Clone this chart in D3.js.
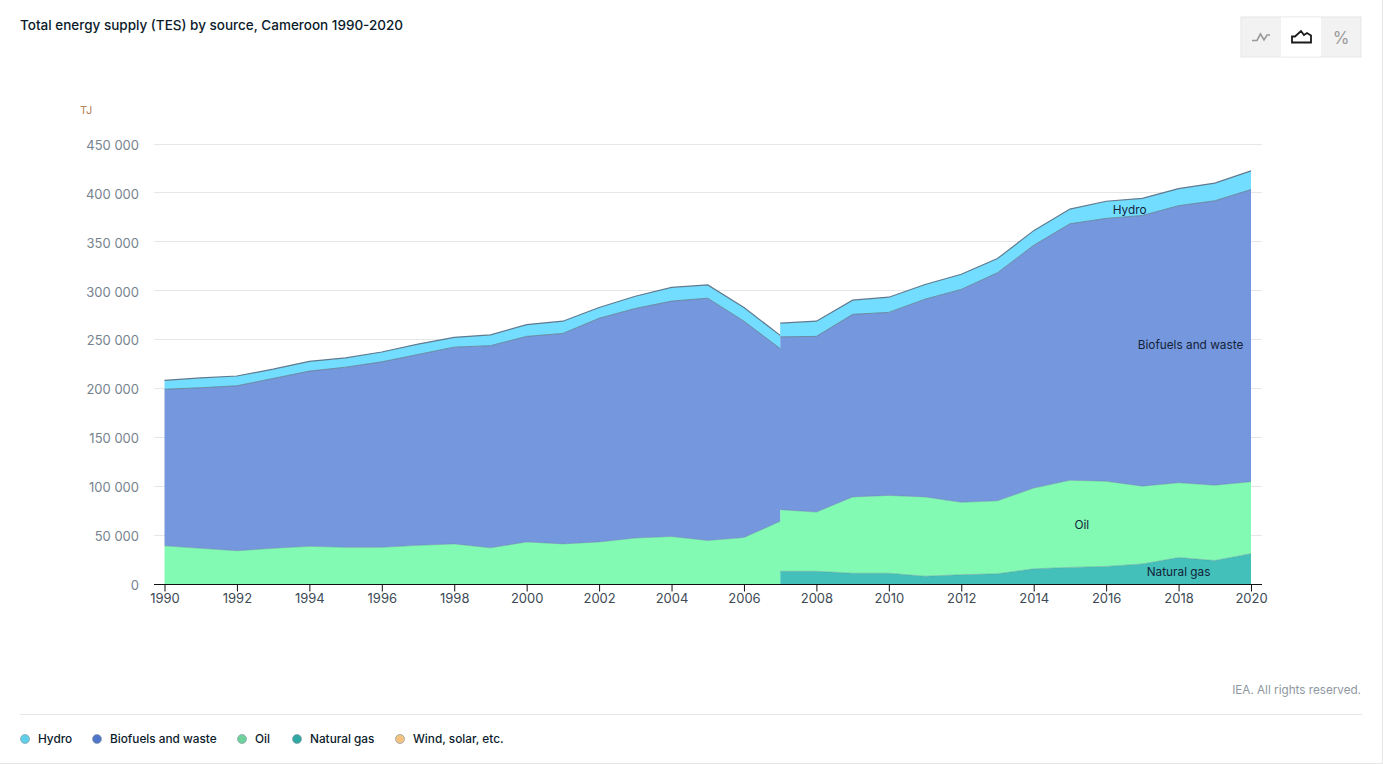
<!DOCTYPE html>
<html>
<head>
<meta charset="utf-8">
<script src="https://cdn.jsdelivr.net/npm/d3@7"></script>
<style>
  html, body { margin: 0; padding: 0; background: #fff; overflow: hidden; }
  svg { display: block; font-family: Inter, 'Open Sans', sans-serif; }
</style>
</head>
<body>
<svg id="chart" width="1383" height="764"></svg>
<script>
// 2007 is listed twice: the series break there, the area jumps straight up
const years = [1990, 1991, 1992, 1993, 1994, 1995, 1996, 1997, 1998, 1999, 2000, 2001, 2002, 2003, 2004, 2005, 2006, 2007, 2007, 2008, 2009, 2010, 2011, 2012, 2013, 2014, 2015, 2016, 2017, 2018, 2019, 2020];
const naturalGas = [0, 0, 0, 0, 0, 0, 0, 0, 0, 0, 0, 0, 0, 0, 0, 0, 0, 0, 14000, 14000, 12000, 12000, 9000, 10500, 11500, 16500, 18000, 19000, 21500, 28000, 25000, 32000];
const oil = [40000, 37500, 35000, 37500, 39500, 38500, 38500, 40500, 42000, 38000, 44000, 42000, 44000, 48000, 49500, 45500, 48500, 65000, 63000, 60500, 78000, 79500, 81000, 74000, 74500, 82500, 89000, 87000, 79500, 76500, 77000, 73500];
const biofuels = [160000, 164000, 168500, 173500, 179000, 184000, 189500, 195000, 201000, 206500, 210000, 215000, 228500, 234500, 240500, 247500, 221000, 176500, 176500, 179500, 186500, 187000, 202000, 217500, 233000, 248000, 262000, 268500, 276500, 283000, 290500, 298500];
const hydro = [9000, 10000, 10000, 9500, 10000, 9500, 10000, 10500, 10000, 11000, 12000, 12500, 11000, 12500, 14000, 13500, 14000, 13500, 14000, 15500, 14500, 15500, 15000, 15500, 14500, 15000, 15000, 17500, 17500, 17500, 18000, 19000];

const yTicks = [0, 50000, 100000, 150000, 200000, 250000, 300000, 350000, 400000, 450000];
const xTicks = d3.range(1990, 2021, 2);

const seriesKeys = ['gas', 'oil', 'bio', 'hydro'];
const seriesFill = { gas: '#3ebfb8', oil: '#7ffab3', bio: '#7295dc', hydro: '#70dcff' };

const labelNames = ['Hydro', 'Biofuels and waste', 'Oil', 'Natural gas'];
const labelYears = [2016.65, 2018.33, 2015.33, 2018];
const labelValues = [383000, 245000, 61000, 13500];

const legendNames = ['Hydro', 'Biofuels and waste', 'Oil', 'Natural gas', 'Wind, solar, etc.'];
const legendColors = ['#5fd0ea', '#4f76c8', '#6dd39b', '#2da8a2', '#f5c27f'];
const legendX = [25, 97, 242, 297, 400];

const svg = d3.select('#chart');

const x = d3.scaleLinear().domain([1990, 2020]).range([164.5, 1251]);
const y = d3.scaleLinear().domain([0, 450000]).range([585, 144.5]);

const rows = years.map((yr, i) => ({ yr, gas: naturalGas[i], oil: oil[i], bio: biofuels[i], hydro: hydro[i] }));
const stacked = d3.stack().keys(seriesKeys)(rows);

// title
svg.append('text').attr('x', 20).attr('y', 30)
  .attr('font-size', 13.5).attr('font-weight', 500).attr('fill', '#0b1b2b')
  .text('Total energy supply (TES) by source, Cameroon 1990-2020');

// chart type switch
const sw = svg.append('g').attr('transform', 'translate(1241,17)');
sw.append('rect').attr('width', 120).attr('height', 40).attr('fill', '#f2f2f2')
  .attr('stroke', '#e6e6e6');
sw.append('rect').attr('x', 40).attr('y', 0.5).attr('width', 40).attr('height', 39).attr('fill', '#fff');
sw.append('path').attr('d', 'M11 23.5H16L19.5 17L23 23L26 18H29').attr('fill', 'none')
  .attr('stroke', '#9a9a9a').attr('stroke-width', 1.6);
sw.append('path').attr('d', 'M51 25.5V19.5H54L60 14L63 18L66 16L70 18.5V25.5Z').attr('fill', 'none')
  .attr('stroke', '#1a1a1a').attr('stroke-width', 1.8);
sw.append('text').attr('x', 100).attr('y', 27).attr('text-anchor', 'middle')
  .attr('font-size', 17).attr('fill', '#9a9a9a').text('%');

// unit
svg.append('text').attr('x', 80).attr('y', 114)
  .attr('font-size', 11).attr('fill', '#b5855a').text('TJ');

// gridlines + y labels
const yAxis = d3.axisLeft(y).tickValues(yTicks).tickSize(0).tickPadding(15)
  .tickFormat((d) => d3.format(',')(d).replace(/,/g, ' '));
const yG = svg.append('g').attr('transform', 'translate(154,0.5)').call(yAxis);
yG.select('.domain').remove();
yG.selectAll('text').attr('font-size', 13).attr('fill', '#76838f').attr('font-family', 'Inter, sans-serif');

svg.append('g').selectAll('line').data(yTicks.slice(1)).join('line')
  .attr('x1', 154).attr('x2', 1262)
  .attr('y1', (d) => Math.round(y(d)) - 0.5).attr('y2', (d) => Math.round(y(d)) - 0.5)
  .attr('stroke', '#e4e6e8');

// areas
const area = d3.area()
  .x((d) => x(d.data.yr))
  .y0((d) => y(d[0]))
  .y1((d) => y(d[1]));
const topLine = d3.line()
  .x((d) => x(d.data.yr))
  .y((d) => y(d[1]));

const areas = svg.append('g');
areas.selectAll('path.area').data(stacked).join('path')
  .attr('class', 'area')
  .attr('d', area)
  .attr('fill', (d) => seriesFill[d.key])
  .attr('fill-opacity', 0.98);

// top edges, split at the 2007 break so the jump itself has no dark line
const edgeParts = stacked.flatMap((s) => {
  const after = { key: s.key, pts: s.slice(18) };
  return s.key === 'gas' ? [after] : [{ key: s.key, pts: s.slice(0, 18) }, after];
});
areas.selectAll('path.edge').data(edgeParts).join('path')
  .attr('class', 'edge')
  .attr('d', (d) => topLine(d.pts))
  .attr('fill', 'none')
  .attr('stroke', (d) => (d.key === 'hydro' || d.key === 'bio' ? '#5f7a8f' : '#5a8f9a'))
  .attr('stroke-opacity', (d) => (d.key === 'hydro' ? 1 : d.key === 'bio' ? 0.8 : 0.45))
  .attr('stroke-width', (d) => (d.key === 'hydro' ? 1.2 : 1));

// x axis
const xAxis = d3.axisBottom(x).tickValues(xTicks).tickSize(7).tickPadding(2)
  .tickFormat(d3.format('d'));
const xG = svg.append('g').attr('transform', 'translate(0,584.5)').call(xAxis);
xG.select('.domain').remove();
xG.append('line').attr('x1', 154).attr('x2', 1262).attr('stroke', '#111').attr('stroke-width', 1);
xG.selectAll('.tick line').attr('stroke', '#111');
xG.selectAll('text').attr('font-size', 13).attr('fill', '#3d4a56').attr('font-family', 'Inter, sans-serif');

// in-chart labels
svg.append('g').selectAll('text').data(labelNames).join('text')
  .attr('x', (d, i) => x(labelYears[i]))
  .attr('y', (d, i) => y(labelValues[i]))
  .attr('dy', '0.35em')
  .attr('text-anchor', 'middle')
  .attr('font-size', 11.8)
  .attr('fill', '#14233a')
  .text((d) => d);

// footer
svg.append('text').attr('x', 1361).attr('y', 694).attr('text-anchor', 'end')
  .attr('font-size', 11.7).attr('fill', '#8f989f').text('IEA. All rights reserved.');
svg.append('line').attr('x1', 20).attr('x2', 1362).attr('y1', 714.5).attr('y2', 714.5).attr('stroke', '#e6e6e6');

// legend
const legend = svg.append('g').selectAll('g').data(legendNames).join('g')
  .attr('transform', (d, i) => `translate(${legendX[i]},739)`);
legend.append('circle').attr('r', 4.5)
  .attr('fill', (d, i) => legendColors[i])
  .attr('stroke', '#8a9aa5').attr('stroke-width', 0.7);
legend.append('text').attr('x', 13).attr('dy', '0.35em')
  .attr('font-size', 11.8).attr('font-weight', 500).attr('fill', '#0b1b2b')
  .text((d) => d);

// page edges
svg.append('line').attr('x1', 0).attr('x2', 1383).attr('y1', 763.5).attr('y2', 763.5).attr('stroke', '#e6e6e6');
svg.append('line').attr('x1', 1382.5).attr('x2', 1382.5).attr('y1', 0).attr('y2', 764).attr('stroke', '#e6e6e6');
</script>
</body>
</html>
